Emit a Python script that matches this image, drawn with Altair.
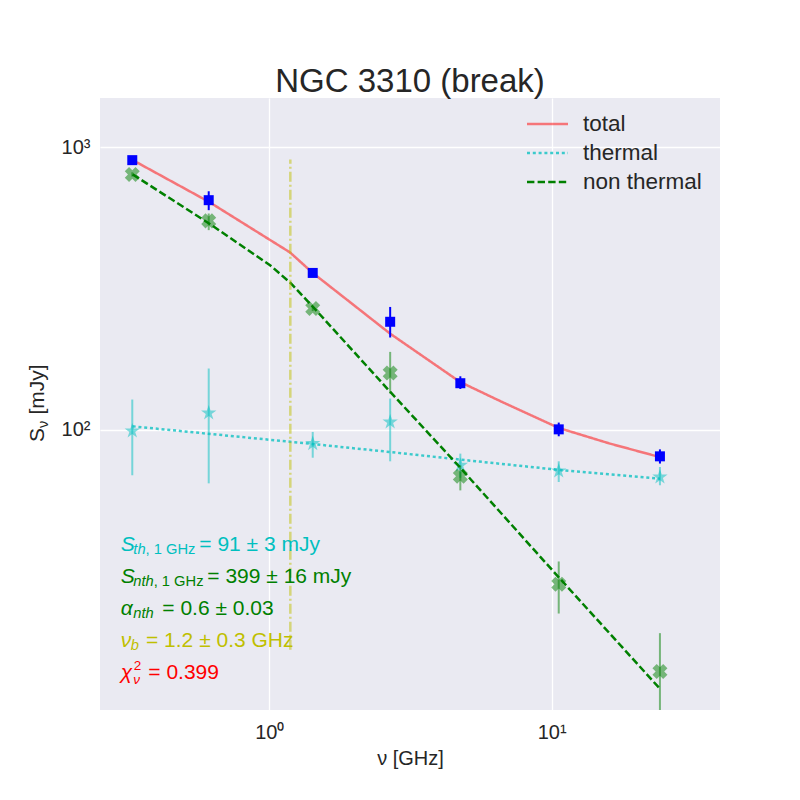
import altair as alt
import pandas as pd

# ---------------- data ----------------
# observed frequencies [GHz]
nu_obs = [0.327, 0.610, 1.425, 2.68, 4.75, 10.6, 24.2]
# total flux density [mJy] with error-bar ends
s_total = [901, 650, 359, 241, 146, 100.2, 80.4]
s_total_lo = [886, 599, 352, 212, 139.3, 94.7, 75.8]
s_total_hi = [916, 699, 366, 272, 154.5, 105.9, 85.1]
# non-thermal component
s_nth = [802, 549, 268.5, 158.7, 68.3, 28.3, 13.9]
s_nth_lo = [788, 509, 263, 134.2, 60.9, 22.3, 9.0]
s_nth_hi = [816, 583, 274, 188.5, 74.7, 34.1, 19.0]
# thermal component
s_th = [98.9, 114.5, 89.2, 106.4, 74.7, 71.3, 67.9]
s_th_lo = [68.9, 64.5, 79.5, 77.2, 67.5, 65.2, 63.5]
s_th_hi = [127.8, 164.6, 98.1, 128.8, 82.2, 77.2, 73.7]

# fitted model curves
nu_total_fit = [0.328, 0.6115, 1.184, 1.425, 1.932, 2.677, 4.74, 6.564, 10.62, 16.10, 24.2]
s_total_fit = [901.5, 641, 424.4, 359, 282.8, 218.9, 147.5, 126.3, 101.3, 89.2, 79.9]
nu_nth_fit = [0.328, 0.6115, 1.006, 1.184, 1.425, 2.677, 4.74, 10.62, 24.2]
s_nth_fit = [802, 537.7, 382.4, 332.1, 272.8, 136.3, 73.4, 29.9, 12.07]
nu_th_fit = [0.328, 1.319, 2.677, 4.74, 10.62, 24.2]
s_th_fit = [102.7, 89.6, 83.3, 78.3, 72.0, 67.0]

series_names = ["total", "thermal", "non thermal"]

# break frequency marker
nu_break_line = [1.187]
break_lo = [16.6]
break_hi = [906]

# fit results
s_th_1ghz, s_th_err = 91, 3
s_nth_1ghz, s_nth_err = 399, 16
alpha_nth, alpha_err = 0.6, 0.03
nu_b, nu_b_err = 1.2, 0.3
chi2_red = 0.399

# ---------------- styling ----------------
FONT = "Liberation Sans"
DARK = "#262626"
C_CYAN = "#00BFBF"
C_GREEN = "#008000"
C_YELLOW = "#BFBF00"
C_RED = "#FF0000"
C_BLUE = "#0000FF"
STAR = ("M0,-1L0.2245,-0.309L0.9511,-0.309L0.3633,0.118L0.5878,0.809L0,0.382"
        "L-0.5878,0.809L-0.3633,0.118L-0.9511,-0.309L-0.2245,-0.309Z")

xs = alt.Scale(type="log", domain=[0.2513, 39.5], nice=False)
ys = alt.Scale(type="log", domain=[10.15, 1496], nice=False)

x_axis = alt.Axis(
    orient="bottom",
    values=[1, 10], grid=True, gridColor="white", gridWidth=1.3,
    domain=False, ticks=False, labelPadding=12, labelFontSize=20,
    labelFont=FONT, labelColor=DARK,
    labelExpr="datum.value < 5 ? '10\u2070' : '10\u00b9'",
    title="\u03bd [GHz]", titleFont=FONT, titleFontSize=20,
    titleFontWeight="normal", titleColor=DARK, titlePadding=6,
)
y_axis = alt.Axis(
    orient="left",
    values=[10, 100, 1000], grid=True, gridColor="white", gridWidth=1.3,
    domain=False, ticks=False, labelPadding=10, labelFontSize=20,
    labelFont=FONT, labelColor=DARK,
    labelExpr="datum.value < 50 ? '10\u00b9' : (datum.value < 500 ? '10\u00b2' : '10\u00b3')",
    title=None,
)

obs = pd.DataFrame({
    "nu": nu_obs,
    "tot": s_total, "tot_lo": s_total_lo, "tot_hi": s_total_hi,
    "nth": s_nth, "nth_lo": s_nth_lo, "nth_hi": s_nth_hi,
    "th": s_th, "th_lo": s_th_lo, "th_hi": s_th_hi,
})

fits = pd.concat([
    pd.DataFrame({"nu": nu_total_fit, "s": s_total_fit, "series": "total"}),
    pd.DataFrame({"nu": nu_th_fit, "s": s_th_fit, "series": "thermal"}),
    pd.DataFrame({"nu": nu_nth_fit, "s": s_nth_fit, "series": "non thermal"}),
], ignore_index=True)

brk = pd.DataFrame({"nu": nu_break_line, "lo": break_lo, "hi": break_hi})


def X(field="nu"):
    return alt.X(f"{field}:Q", scale=xs, axis=x_axis)


def Y(field):
    return alt.Y(f"{field}:Q", scale=ys, axis=y_axis)


base = alt.Chart(obs)

th_bars = base.mark_rule(color=C_CYAN, opacity=0.5, strokeWidth=2, clip=True).encode(
    x=X(), y=Y("th_lo"), y2="th_hi")
th_pts = base.mark_point(shape=STAR, filled=True, size=260, color=C_CYAN, opacity=0.5,
                         strokeWidth=0).encode(x=X(), y=Y("th"))
nth_bars = base.mark_rule(color=C_GREEN, opacity=0.5, strokeWidth=2, clip=True).encode(
    x=X(), y=Y("nth_lo"), y2="nth_hi")
nth_pts = base.mark_point(shape="cross", angle=45, filled=True, size=230, color=C_GREEN,
                          opacity=0.5, strokeWidth=0).encode(x=X(), y=Y("nth"))

legend = alt.Legend(
    title=None, orient="none", legendX=425.5, legendY=11.75, padding=0,
    symbolType="stroke", symbolSize=1681, symbolStrokeWidth=2.5,
    labelFont=FONT, labelFontSize=22.5, labelColor=DARK, labelOffset=13.5,
    clipHeight=28.5, rowPadding=0,
)
lines = alt.Chart(fits).mark_line(strokeWidth=2.5, clip=True).encode(
    x=X(), y=Y("s"),
    color=alt.Color("series:N", sort=series_names, legend=legend,
                    scale=alt.Scale(domain=series_names, range=[C_RED, C_CYAN, C_GREEN])),
    strokeDash=alt.StrokeDash("series:N", sort=series_names, legend=legend,
                              scale=alt.Scale(domain=series_names,
                                              range=[[1, 0], [3, 2.8], [7.4, 3.2]])),
    opacity=alt.Opacity("series:N", sort=series_names, legend=legend,
                        scale=alt.Scale(domain=series_names, range=[0.5, 1, 1])),
)

vline = alt.Chart(brk).mark_rule(color=C_YELLOW, opacity=0.5, strokeWidth=2.5,
                                 strokeDash=[10, 3, 2, 3]).encode(
    x=X(), y=Y("lo"), y2="hi")

tot_bars = base.mark_rule(color=C_BLUE, strokeWidth=2).encode(
    x=X(), y=Y("tot_lo"), y2="tot_hi")
tot_pts = base.mark_point(shape="square", filled=True, size=100, color=C_BLUE, opacity=1,
                          strokeWidth=0).encode(x=X(), y=Y("tot"))


def seg(text, x, y, dx=0, dy=0, size=21, italic=False, color=DARK, angle=0):
    return alt.Chart(pd.DataFrame({"k": [0]})).mark_text(
        text=text, align="left", baseline="alphabetic", dx=dx, dy=dy,
        fontSize=size, fontStyle="italic" if italic else "normal",
        font=FONT, color=color, angle=angle,
    ).encode(x=alt.value(x), y=alt.value(y))


AX = 20.7
L = [452.7, 484.7, 516.7, 548.7, 580.7]
SUB = 14.7
notes = [
    seg("S", AX, L[0], 0, 0, 21, True, C_CYAN),
    seg("th", AX, L[0], 12.6, 3, SUB, True, C_CYAN),
    seg(", 1 GHz", AX, L[0], 24.9, 3, SUB, False, C_CYAN),
    seg(f"= {s_th_1ghz} \u00b1 {s_th_err} mJy", AX, L[0], 78.6, 0, 21, False, C_CYAN),
    seg("S", AX, L[1], 0, 0, 21, True, C_GREEN),
    seg("nth", AX, L[1], 12.6, 3, SUB, True, C_GREEN),
    seg(", 1 GHz", AX, L[1], 33.0, 3, SUB, False, C_GREEN),
    seg(f"= {s_nth_1ghz} \u00b1 {s_nth_err} mJy", AX, L[1], 86.6, 0, 21, False, C_GREEN),
    seg("\u03b1", AX, L[2], 0, 0, 21, True, C_GREEN),
    seg("nth", AX, L[2], 12.6, 3, SUB, True, C_GREEN),
    seg(f"= {alpha_nth} \u00b1 {alpha_err}", AX, L[2], 41.6, 0, 21, False, C_GREEN),
    seg("\u03bd", AX, L[3], 0, 0, 21, True, C_YELLOW),
    seg("b", AX, L[3], 10.0, 3, SUB, True, C_YELLOW),
    seg(f"= {nu_b} \u00b1 {nu_b_err} GHz", AX, L[3], 25.3, 0, 21, False, C_YELLOW),
    seg("\u03c7", AX, L[4], 0, 0, 21, True, C_RED),
    seg("2", AX, L[4], 13.0, -8.5, 13.5, False, C_RED),
    seg("\u03bd", AX, L[4], 12.6, 5.5, 13.5, True, C_RED),
    seg(f"= {chi2_red}", AX, L[4], 27.6, 0, 21, False, C_RED),
    # y-axis title  S_nu [mJy]
    seg("S", -56, 344, 0, 0, 21, False, DARK, 270),
    seg("\u03bd", -56, 344, 14.0, 4, 14.5, False, DARK, 270),
    seg("[mJy]", -56, 344, 27.5, 0, 21, False, DARK, 270),
]

chart = alt.layer(
    th_bars, th_pts, nth_bars, nth_pts, lines, vline, tot_bars, tot_pts, *notes
).properties(
    width=620, height=612,
    autosize=alt.AutoSizeParams(type="none"),
    padding={"left": 92, "top": 90, "right": 72, "bottom": 82},
    title=alt.TitleParams(
        text="NGC 3310 (break)", font=FONT, fontSize=33, fontWeight="normal",
        color=DARK, anchor="middle", frame="group", offset=4, dy=31,
        baseline="alphabetic",
    ),
).configure(font=FONT, background="white").configure_view(
    fill="#EAEAF2", strokeWidth=0
)

chart.save("out.html", embed_options={"renderer": "svg", "actions": False})
